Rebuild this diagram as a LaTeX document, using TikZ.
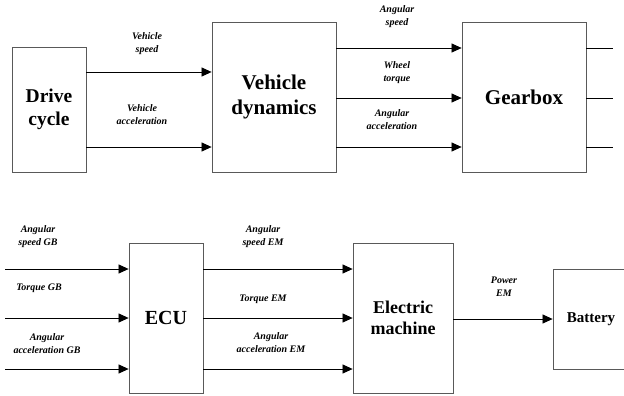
\documentclass[tikz,border=0pt]{standalone}
\usepackage{fontspec}
\setmainfont{Liberation Serif}
\usetikzlibrary{arrows.meta}
\begin{document}
\begin{tikzpicture}[x=1pt,y=-1pt,
  blk/.style={draw=black!65,line width=0.8pt,inner sep=0pt,align=center,font=\bfseries},
  lbl/.style={align=center,inner sep=0pt,font=\fontsize{10}{13}\selectfont\bfseries\itshape},
  arr/.style={draw=black,line width=0.7pt,-{Triangle[length=10pt,width=9pt]}},
  ln/.style={draw=black,line width=0.7pt}]
\useasboundingbox (0,0) rectangle (624,396);
\clip (0,0) rectangle (624,396);
% blocks
\node[blk,minimum width=74pt,minimum height=125pt,font=\fontsize{19.5}{23}\selectfont\bfseries] (dc) at (49,109.5) {Drive\\cycle};
\node[blk,minimum width=124pt,minimum height=150pt,font=\fontsize{21}{25}\selectfont\bfseries] (vd) at (274,97) {Vehicle\\dynamics};
\node[blk,minimum width=124pt,minimum height=150pt,font=\fontsize{21}{25}\selectfont\bfseries] (gb) at (524,97) {Gearbox};
\node[blk,minimum width=74pt,minimum height=150pt,font=\fontsize{20}{24}\selectfont\bfseries] (ecu) at (166,318) {ECU};
\node[blk,minimum width=100pt,minimum height=150pt,font=\fontsize{18}{21}\selectfont\bfseries] (em) at (403,318) {Electric\\machine};
\node[blk,minimum width=76pt,minimum height=100pt,font=\fontsize{15}{18}\selectfont\bfseries] (bat) at (591,319) {Battery};
% levels
\coordinate (t1) at (0,72);
\coordinate (t2) at (0,147);
\coordinate (g1) at (0,48);
\coordinate (g2) at (0,98);
\coordinate (g3) at (0,147);
\coordinate (e1) at (0,269);
\coordinate (e2) at (0,318);
\coordinate (e3) at (0,369);
\coordinate (pw) at (0,319);
% free ends
\coordinate (o1) at (613,48);
\coordinate (o2) at (613,98);
\coordinate (o3) at (613,147);
\coordinate (i1) at (5,269);
\coordinate (i2) at (5,318);
\coordinate (i3) at (5,369);
% connectors
\draw[arr] (dc.east |- t1) -- (vd.west |- t1);
\draw[arr] (dc.east |- t2) -- (vd.west |- t2);
\draw[arr] (vd.east |- g1) -- (gb.west |- g1);
\draw[arr] (vd.east |- g2) -- (gb.west |- g2);
\draw[arr] (vd.east |- g3) -- (gb.west |- g3);
\draw[ln] (gb.east |- o1) -- (o1);
\draw[ln] (gb.east |- o2) -- (o2);
\draw[ln] (gb.east |- o3) -- (o3);
\draw[arr] (i1) -- (ecu.west |- i1);
\draw[arr] (i2) -- (ecu.west |- i2);
\draw[arr] (i3) -- (ecu.west |- i3);
\draw[arr] (ecu.east |- e1) -- (em.west |- e1);
\draw[arr] (ecu.east |- e2) -- (em.west |- e2);
\draw[arr] (ecu.east |- e3) -- (em.west |- e3);
\draw[arr] (em.east |- pw) -- (bat.west |- pw);
% labels
\node[lbl] (lvs) at (147,44) {Vehicle\\speed};
\node[lbl] (lva) at (142,115) {Vehicle\\acceleration};
\node[lbl] (las) at (397,16.5) {Angular\\speed};
\node[lbl] (lwt) at (397,72.5) {Wheel\\torque};
\node[lbl] (laa) at (392,119.5) {Angular\\acceleration};
\node[lbl] (lasgb) at (38,237) {Angular\\speed GB};
\node[lbl] (ltgb) at (39,288) {Torque GB};
\node[lbl] (laagb) at (47,344) {Angular\\acceleration GB};
\node[lbl] (lasem) at (263,237) {Angular\\speed EM};
\node[lbl] (ltem) at (263,299) {Torque EM};
\node[lbl] (laaem) at (271,343) {Angular\\acceleration EM};
\node[lbl] (lpem) at (504,286.5) {Power\\EM};
\end{tikzpicture}
\end{document}
